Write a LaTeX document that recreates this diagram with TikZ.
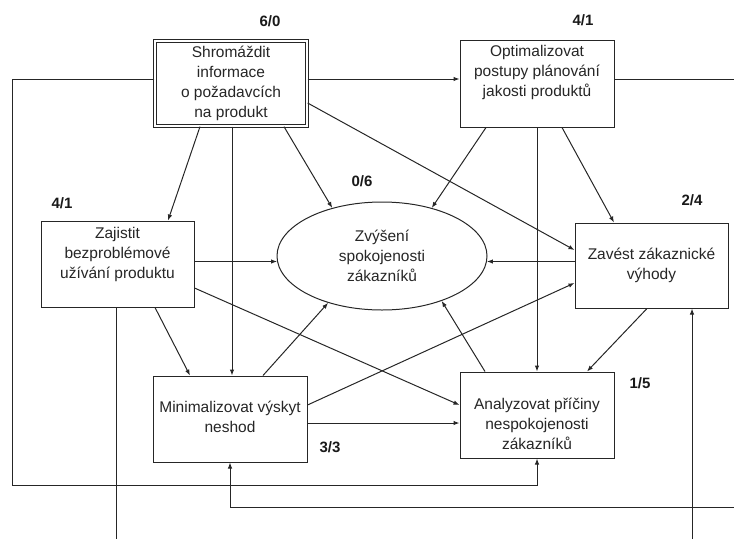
\documentclass[tikz,border=0pt]{standalone}
\usepackage{fontspec}
\setmainfont{Liberation Sans}
\usetikzlibrary{arrows.meta,shapes.geometric,calc}
\begin{document}
\begin{tikzpicture}[x=1pt,y=-1pt,
  line/.style={draw=black!85, line width=1pt},
  arr/.style={line, -{Latex[length=6pt,width=4.5pt]}},
  box/.style={line, rectangle, inner sep=0pt, fill=white},
  txt/.style={align=center, font=\fontsize{15.5}{20}\selectfont, text=black!85, inner sep=0pt},
  num/.style={font=\fontsize{15}{18}\selectfont\bfseries, text=black!90, inner sep=0pt}]
\useasboundingbox (0,0) rectangle (734,539);

% boxes
\node[box, double, line width=1.3pt, double distance=1.6pt, minimum width=152pt, minimum height=85pt] (A) at (231,83.5) {};
\node[txt] (At) at (231,83) {Shromáždit\\informace\\o požadavcích\\na produkt};
\node[box, minimum width=154pt, minimum height=87pt] (B) at (537,83.5) {};
\node[txt] (Bt) at (537,72) {Optimalizovat\\postupy plánování\\jakosti produktů};
\node[box, minimum width=153pt, minimum height=86pt] (C) at (117.5,264) {};
\node[txt] (Ct) at (117.5,254) {Zajistit\\bezproblémové\\užívání produktu};
\node[box, minimum width=153pt, minimum height=85pt] (D) at (651.5,265.5) {};
\node[txt] (Dt) at (651.5,265) {Zavést zákaznické\\výhody};
\node[box, minimum width=154pt, minimum height=86pt] (E) at (230,419) {};
\node[txt] (Et) at (230,416.5) {Minimalizovat výskyt\\neshod};
\node[box, minimum width=154pt, minimum height=86pt] (F) at (537,415) {};
\node[txt] (Ft) at (537,424) {Analyzovat příčiny\\nespokojenosti\\zákazníků};
\node[line, ellipse, inner sep=0pt, minimum width=210pt, minimum height=108pt, txt] (Z) at (382,256) {Zvýšení\\spokojenosti\\zákazníků};

% labels
\node[num] (n1) at (270,21) {6/0};
\node[num] (n2) at (583,20) {4/1};
\node[num] (n3) at (362,181) {0/6};
\node[num] (n4) at (62,203) {4/1};
\node[num] (n5) at (692,200) {2/4};
\node[num] (n6) at (640,383) {1/5};
\node[num] (n7) at (330,447) {3/3};

% free ends
\coordinate (L1) at (12,485);
\coordinate (R1) at (734,79);
\coordinate (R2) at (734,507);
\coordinate (Cb) at (116,539);
\coordinate (Db) at (692,539);

% from A
\draw[arr] ([xshift=-31pt]A.south) -- ([xshift=50.5pt]C.north);
\draw[arr] ([xshift=1pt]A.south) -- ([xshift=1pt]A.south |- E.north);
\draw[arr] ([xshift=53pt]A.south) -- (Z.136);
\draw[arr] ([yshift=-19.5pt]A.east) -- ([yshift=15.5pt]D.west);
\draw[arr] ([yshift=4.5pt]A.east) -- ([yshift=4.5pt]A.east -| B.west);
\draw[arr] ([yshift=4.5pt]A.west) -| (L1) -| (F.south);

% from B
\draw[arr] ([xshift=-51pt]B.south) -- (Z.44);
\draw[arr] (B.south) -- (F.north);
\draw[arr] ([xshift=25pt]B.south) -- ([xshift=-37.5pt]D.north);
\draw[line] ([yshift=4.5pt]B.east) -- ([yshift=4.5pt]B.east -| R1);

% from C
\draw[arr] (Z.183 -| C.east) -- (Z.183);
\draw[arr] ([xshift=37.5pt]C.south) -- ([xshift=-40pt]E.north);
\draw[arr] ([yshift=-24pt]C.east) -- ([yshift=10pt]F.west);
\draw[line] (C.south -| Cb) -- (Cb);

% from D
\draw[arr] (Z.-3 -| D.west) -- (Z.-3);
\draw[arr] ([xshift=-4.5pt]D.south) -- ([xshift=50pt]F.north);
\draw[arr] (Db) -- (Db |- D.south);

% from E
\draw[arr] ([xshift=33pt]E.north) -- (Z.221);
\draw[arr] ([yshift=14pt]E.east) -- ([yshift=-17.5pt]D.west);
\draw[arr] ([yshift=-4pt]E.east) -- ([yshift=-4pt]E.east -| F.west);
\draw[arr] (R2) -| (E.south);

% from F
\draw[arr] ([xshift=-52pt]F.north) -- (Z.-37);
\end{tikzpicture}
\end{document}
